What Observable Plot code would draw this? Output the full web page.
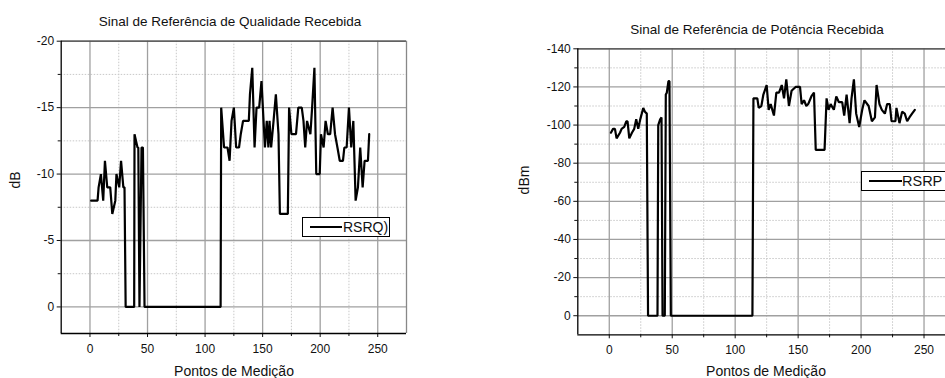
<!DOCTYPE html>
<html><head><meta charset="utf-8">
<script src="https://cdn.jsdelivr.net/npm/d3@7"></script>
<script src="https://cdn.jsdelivr.net/npm/@observablehq/plot@0.6"></script>
<style>
body{margin:0;background:#fff;overflow:hidden;font-family:"Liberation Sans",Arial,sans-serif}
#wrap{position:relative;width:945px;height:378px;overflow:hidden;background:#fff}
.abs{position:absolute;white-space:nowrap;color:#111;line-height:1}
.c{transform:translate(-50%,-50%)}
.rot{transform:translate(-50%,-50%) rotate(-90deg)}
.leg{position:absolute;border:1px solid #000;background:#fff;box-sizing:border-box}
.leg .ln{position:absolute;height:2px;background:#000}
.leg .tx{position:absolute;line-height:1;color:#111}
svg{position:absolute;top:0}
</style></head>
<body><div id="wrap"></div>
<script>
// ---- RSRQ (left) ----
const rsrqX = [1,6.6,7.5,9.5,11.5,13,15,17.6,19.4,22,23,25.4,27,29,30,31,38.4,38.7,41.3,42,43,44.8,46,47.4,113.5,114,116.5,119.5,121.3,123,125,127,129.5,131,133,138,139,141,143,144.7,147,149,152,153.6,155,156,157.4,159.5,161.5,163.8,165,171.9,173,175,179,181,184,185.5,187,188.6,191.5,193,195,196.6,199.6,200.7,203,204.7,206.7,208.7,210.8,212.9,215,217,219.8,221,223,225,227,228.8,230.8,232.8,234.8,236.9,238.6,241.5,242.6];
const rsrqY = [-8,-8,-9,-10,-8,-11,-9,-9,-7,-8,-10,-9,-11,-9,-9,0,0,-13,-12,-12,0,-12,-12,0,0,-15,-12,-12,-11,-14,-15,-12,-12,-13,-14,-14,-16,-18,-12,-15,-15,-17,-12,-14,-12,-14,-12,-14,-16,-13,-7,-7,-15,-13,-13,-15,-15,-14,-12,-14,-13,-15,-18,-10,-10,-13,-12,-14,-13,-13,-15,-13,-12,-11,-11,-12,-12,-15,-12,-14,-8,-9,-12,-9,-11,-11,-13];

// ---- RSRP (right) ----
const rsrpX = [1.3,3,4.5,5.8,8.5,9.8,11.9,13.5,14.5,15.9,18,19.8,21.4,23,24.6,27,28.3,29.8,30.8,38.3,38.9,40.4,41.5,42.3,44.1,44.9,45.7,47,47.8,48.9,113.7,114.5,117.6,118.7,120.8,122.4,125,126.6,128.2,130.8,132.7,134.8,137,138.8,140.6,142.7,144.8,148,151.5,152.8,154.7,156.5,158,160.5,162.6,164,171,172.6,174.2,175.8,178.4,180.3,182.4,185,186.6,188.5,190.9,192.4,194.3,196.1,198.5,200.9,202.7,206,208.6,211,212.3,214.6,216.5,218.9,220.7,222.8,224.2,227.3,228.1,230.5,232.6,234.7,236.6,238.4,240.5,242.7];
const rsrpY = [-96,-98,-98,-93,-96,-98,-99,-102,-102,-93,-96,-98,-103,-98,-103,-109,-107,-106,0,0,-100,-103,-104,0,0,-116,-117,-123,-123,0,0,-114,-114,-109,-110,-116,-121,-108,-111,-105,-117,-117,-121,-114,-124,-110,-118,-120,-120,-111,-113,-110,-111,-115,-117,-87,-87,-114,-108,-111,-108,-115,-112,-112,-105,-116,-101,-114,-124,-106,-99,-108,-113,-110,-102,-104,-121,-111,-108,-106,-111,-111,-102,-102,-109,-101,-107,-106,-102,-104,-106,-108];

const xMajor = [0,50,100,150,200,250];
const xMinor = [25,75,125,175,225];
const rsrqMajor = [-20,-15,-10,-5,0];
const rsrqMinor = [-17.5,-12.5,-7.5,-2.5];
const rsrpMajor = [-140,-120,-100,-80,-60,-40,-20,0];
const rsrpMinor = [-130,-110,-90,-70,-50,-30,-10];

const FONT = '"Liberation Sans", Arial, sans-serif';

function panel(o){
  const data = o.xs.map((x,i)=>({x, y:o.ys[i]}));
  const svg = Plot.plot({
    width:o.width, height:378,
    marginLeft:o.mL, marginRight:o.mR, marginTop:o.mT, marginBottom:o.mB,
    x:{domain:o.xDomain}, y:{domain:o.yDomain},
    style:{fontFamily:FONT, fontSize:"12px", background:"transparent", color:"#111"},
    marks:[
      Plot.ruleX(xMinor,{stroke:"#c8c8c8", strokeDasharray:"1.5,1.5"}),
      Plot.ruleY(o.yMinor,{stroke:"#c8c8c8", strokeDasharray:"1.5,1.5"}),
      Plot.ruleX(xMajor,{stroke:"#a0a0a0", strokeWidth:1.3}),
      Plot.ruleY(o.yMajor,{stroke:"#a0a0a0", strokeWidth:1.3}),
      Plot.axisX({ticks:xMajor, tickSize:4, tickPadding:7, tickFormat:d=>String(d), label:null, fontSize:12}),
      Plot.axisX({ticks:xMinor, tickSize:3, tickFormat:()=>"", label:null}),
      Plot.axisY({ticks:o.yMajor, tickSize:4, tickPadding:3, tickFormat:d=>String(d), label:null, fontSize:12}),
      Plot.axisY({ticks:o.yMinor, tickSize:3, tickFormat:()=>"", label:null}),
      Plot.ruleY([o.yDomain[1]],{stroke:"#444", strokeWidth:1.3}),
      Plot.ruleX([o.xDomain[1]],{stroke:"#888", strokeWidth:1.3}),
      Plot.ruleY([o.yDomain[0]],{stroke:"#000", strokeWidth:1.3}),
      Plot.ruleX([o.xDomain[0]],{stroke:"#000", strokeWidth:1.3}),
      Plot.line(data,{x:"x", y:"y", stroke:"#000", strokeWidth:2.2, strokeLinejoin:"miter"})
    ]
  });
  svg.style.left = o.left + "px";
  return svg;
}

const wrap = document.getElementById("wrap");
wrap.appendChild(panel({xs:rsrqX, ys:rsrqY, xDomain:[-25,275], yDomain:[2,-20], yMajor:rsrqMajor, yMinor:rsrqMinor,
  left:0, width:420, mL:60.7, mR:14, mT:40.7, mB:45}));
wrap.appendChild(panel({xs:rsrpX, ys:rsrpY, xDomain:[-25,275], yDomain:[10,-140], yMajor:rsrpMajor, yMinor:rsrpMinor,
  left:520, width:480, mL:57.3, mR:45, mT:48.3, mB:43.7}));

function text(t, x, y, size, cls){
  const d = document.createElement("div");
  d.className = "abs " + cls;
  d.style.left = x + "px"; d.style.top = y + "px"; d.style.fontSize = size + "px";
  d.textContent = t; wrap.appendChild(d);
}
text("Sinal de Referência de Qualidade Recebida", 230, 21.5, 13.5, "c");
text("Sinal de Referência de Potência Recebida", 757, 30, 13.5, "c");
text("Pontos de Medição", 234, 371, 14, "c");
text("Pontos de Medição", 766, 371, 14, "c");
text("dB", 15, 180, 14, "rot");
text("dBm", 524, 180, 14, "rot");

function legend(label, x, y, w, h, lx0, lx1, tx, size){
  const b = document.createElement("div");
  b.className = "leg";
  b.style.left = x+"px"; b.style.top = y+"px"; b.style.width = w+"px"; b.style.height = h+"px";
  const l = document.createElement("div"); l.className = "ln";
  l.style.left = (lx0-x)+"px"; l.style.width = (lx1-lx0)+"px"; l.style.top = (h/2-2)+"px";
  const t = document.createElement("div"); t.className = "tx";
  t.style.left = (tx-x)+"px"; t.style.top = (h/2 - size*0.55)+"px"; t.style.fontSize = size+"px";
  t.textContent = label;
  b.appendChild(l); b.appendChild(t); wrap.appendChild(b);
}
legend("RSRQ)", 302, 217, 88, 20, 309, 341, 342, 14);
legend("RSRP", 861, 171, 120, 19.5, 868, 901, 901, 14.5);
</script></body></html>
